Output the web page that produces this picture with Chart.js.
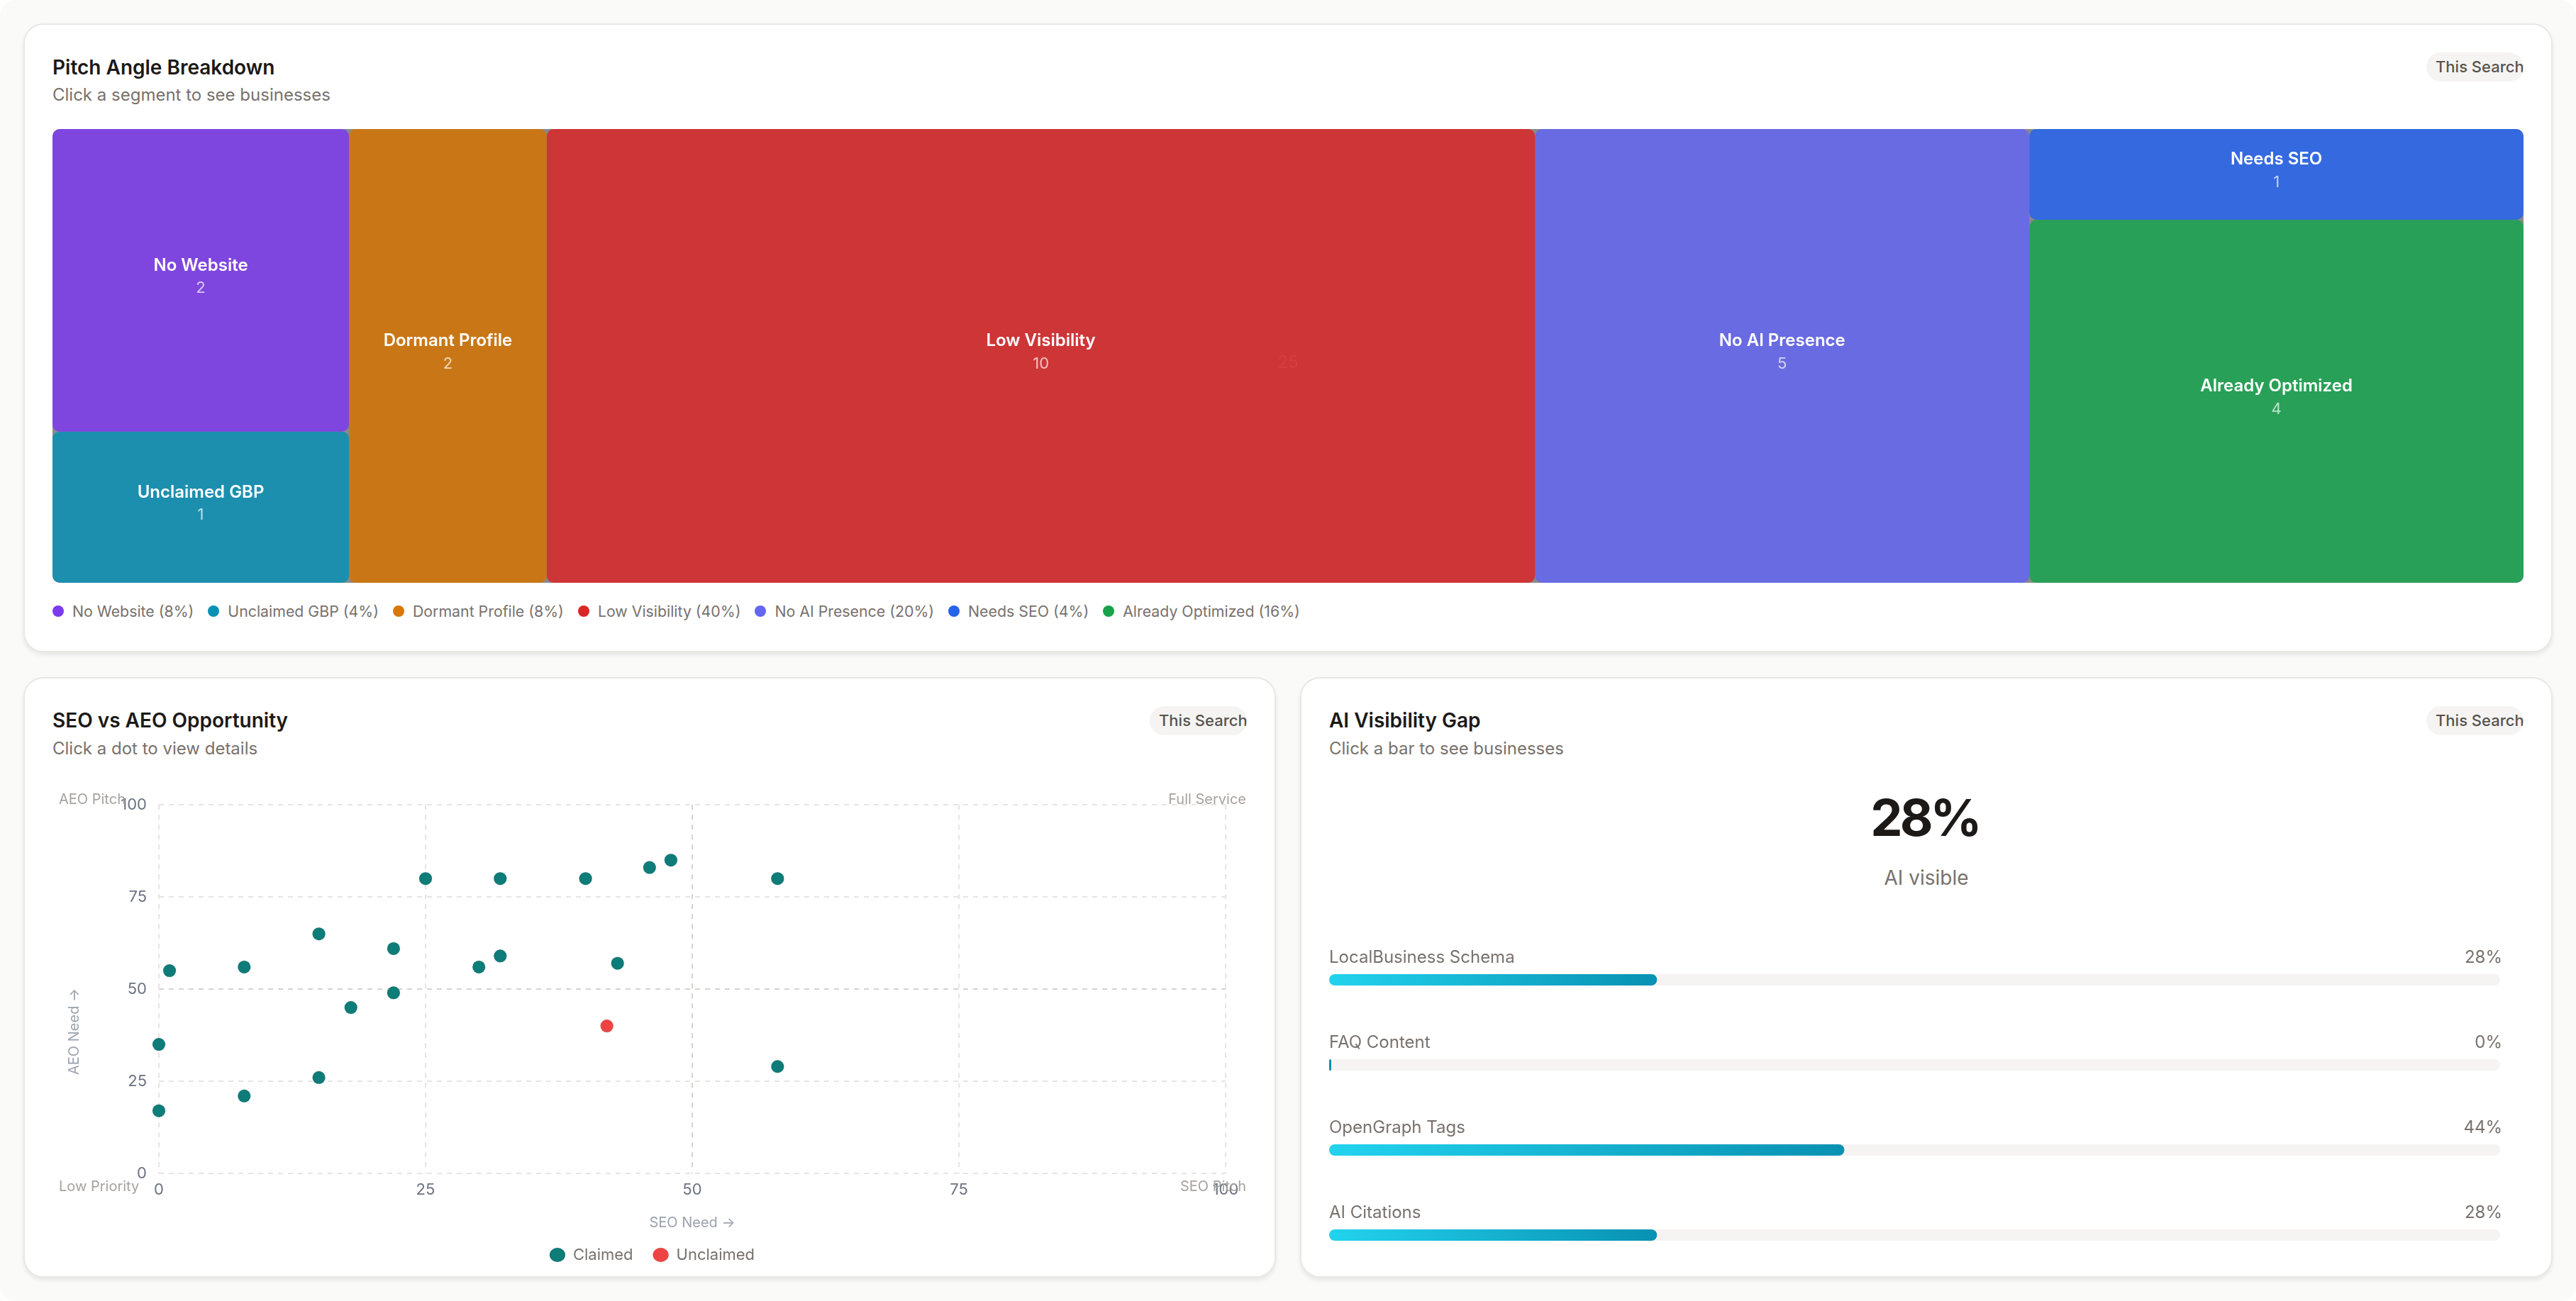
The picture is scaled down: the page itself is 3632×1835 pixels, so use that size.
<!DOCTYPE html>
<html>
<head>
<meta charset="utf-8">
<title>Pitch dashboard</title>
<script src="https://cdn.jsdelivr.net/npm/chart.js@4/dist/chart.umd.min.js"></script>
<style>
  html, body { margin: 0; padding: 0; background: #fff; }
  body { width: 3632px; height: 1835px; position: relative; overflow: hidden; font-family: Inter, sans-serif; }
  .page { position: absolute; inset: 0; background: #fafaf8; border-radius: 22px; }
  .card { position: absolute; box-sizing: border-box; background: #fff; border: 2px solid #e9e8e5; border-radius: 28px; box-shadow: 0 4px 6px rgba(0,0,0,.08); }
  .title { position: absolute; font-size: 28px; font-weight: 600; line-height: 34px; color: #1c1917; white-space: nowrap; }
  .sub { position: absolute; font-size: 24px; line-height: 30px; color: #78716c; white-space: nowrap; }
  .pill { position: absolute; width: 137px; height: 41px; box-sizing: border-box; padding-left: 13px; border-radius: 21px; background: #f5f4f2; color: #57534e;
          font-size: 22px; font-weight: 500; line-height: 41px; overflow: hidden; white-space: nowrap; }
  canvas { position: absolute; display: block; }
  #treeWrap { position: absolute; left: 74px; top: 182px; width: 3484px; height: 640px; background: #8a8a8a; border-radius: 10px; overflow: hidden; }
  #treeWrap canvas { left: 0; top: 0; }
  #treeLegend { position: absolute; left: 74px; top: 848px; height: 28px; display: flex; align-items: center; font-size: 21.3px; color: #78716c; white-space: nowrap; }
  #treeLegend span.item { display: flex; align-items: center; margin-right: 20px; }
  #treeLegend i { width: 16px; height: 16px; border-radius: 50%; margin-right: 12px; display: block; }
  .corner { position: absolute; font-size: 20px; line-height: 24px; color: #a8a29e; white-space: nowrap; }
  #aeoTitle { position: absolute; left: 104px; top: 1455px; font-size: 20px; line-height: 24px; color: #9ca3af; white-space: nowrap; transform: translate(-50%, -50%) rotate(-90deg); }
  #bigNum { position: absolute; left: 1872px; width: 1684px; top: 1108px; text-align: center; font-size: 72px; letter-spacing: -4px; line-height: 90px; font-weight: 700; color: #1c1917; }
  #bigSub { position: absolute; left: 1874px; width: 1684px; top: 1220px; text-align: center; font-size: 28px; line-height: 36px; color: #78716c; }
</style>
</head>
<body>
<div class="page"></div>

<div class="card" style="left:33px;top:33px;width:3566px;height:887px"></div>
<div class="title" style="left:74px;top:78px">Pitch Angle Breakdown</div>
<div class="sub" style="left:74px;top:119px">Click a segment to see businesses</div>
<div class="pill" style="left:3421px;top:74px">This Search</div>
<div id="treeWrap"><canvas id="treeChart" width="3484" height="640"></canvas></div>
<div id="treeLegend"></div>

<div class="card" style="left:33px;top:955px;width:1766px;height:847px"></div>
<div class="title" style="left:74px;top:999px">SEO vs AEO Opportunity</div>
<div class="sub" style="left:74px;top:1041px">Click a dot to view details</div>
<div class="pill" style="left:1621px;top:996px">This Search</div>
<canvas id="scatterChart" width="1684" height="686" style="left:74px;top:1105px"></canvas>
<div id="aeoTitle">AEO Need →</div>
<div class="corner" style="left:83px;top:1115px">AEO Pitch</div>
<div class="corner" style="right:1875px;top:1115px">Full Service</div>
<div class="corner" style="left:83px;top:1661px">Low Priority</div>
<div class="corner" style="right:1875px;top:1661px">SEO Pitch</div>

<div class="card" style="left:1833px;top:955px;width:1766px;height:847px"></div>
<div class="title" style="left:1874px;top:999px">AI Visibility Gap</div>
<div class="sub" style="left:1874px;top:1041px">Click a bar to see businesses</div>
<div class="pill" style="left:3421px;top:996px">This Search</div>
<div id="bigNum"></div>
<div id="bigSub">AI visible</div>
<canvas id="gapChart" width="1684" height="480" style="left:1874px;top:1322px"></canvas>

<script>
// treemap data
var tileNames = ["No Website", "Unclaimed GBP", "Dormant Profile", "Low Visibility", "No AI Presence", "Needs SEO", "Already Optimized"];
var tileCounts = [2, 1, 2, 10, 5, 1, 4];
var tileColumns = [0, 0, 1, 2, 3, 4, 4];
var tileColors = ["#7f46df", "#1c8faf", "#c97716", "#ce3537", "#696be2", "#3569df", "#29a057"];
var dotColors = ["#7c3aed", "#0891b2", "#d97706", "#dc2626", "#6366f1", "#2563eb", "#16a34a"];

// scatter data, [seo, aeo]
var claimedPoints = [[25,80],[32,80],[40,80],[46,83],[48,85],[58,80],[15,65],[22,61],[32,59],[30,56],[43,57],[1,55],[8,56],[22,49],[18,45],[0,35],[15,26],[8,21],[0,17],[58,29]];
var unclaimedPoints = [[42,40]];
var scatterTicks = [0, 25, 50, 75, 100];

// ai visibility data
var gapNames = ["LocalBusiness Schema", "FAQ Content", "OpenGraph Tags", "AI Citations"];
var gapValues = [28, 0, 44, 28];
var aiVisible = 28;

Chart.defaults.font.family = "Inter, sans-serif";
Chart.defaults.animation = false;

// --- treemap ---
var total = tileCounts.reduce(function (a, b) { return a + b; }, 0);
var columnSums = {};
tileCounts.forEach(function (c, i) {
  columnSums[tileColumns[i]] = (columnSums[tileColumns[i]] || 0) + c;
});

var xCursor = 0, yCursor = 0, lastColumn = 0;
var treeDatasets = tileNames.map(function (name, i) {
  if (tileColumns[i] !== lastColumn) {
    xCursor += columnSums[lastColumn];
    yCursor = 0;
    lastColumn = tileColumns[i];
  }
  var span = columnSums[tileColumns[i]];
  var lo = yCursor;
  yCursor += tileCounts[i] / span;
  return {
    label: name,
    stack: "tree",
    span: span,
    count: tileCounts[i],
    data: [{ x: xCursor + span / 2, y: [lo, yCursor] }],
    backgroundColor: tileColors[i],
    borderRadius: 10,
    borderSkipped: false,
    inflateAmount: 0
  };
});

// each tile is as wide as its column on the x scale
var tileWidths = {
  id: "tileWidths",
  afterLayout: function (chart) {
    var x = chart.scales.x;
    chart.data.datasets.forEach(function (d) {
      d.barThickness = x.getPixelForValue(d.span) - x.getPixelForValue(0);
    });
  }
};

var tileLabels = {
  id: "tileLabels",
  afterDatasetsDraw: function (chart) {
    var ctx = chart.ctx;
    ctx.save();
    ctx.textAlign = "center";
    ctx.textBaseline = "middle";
    // total sits almost invisible in the middle
    ctx.font = "24px Inter";
    ctx.fillStyle = "#d43f40";
    ctx.fillText(String(total), chart.scales.x.getPixelForValue(total / 2), chart.scales.y.getPixelForValue(0.5) + 10);
    chart.data.datasets.forEach(function (d, i) {
      var c = chart.getDatasetMeta(i).data[0].getCenterPoint();
      ctx.font = "600 24px Inter";
      ctx.fillStyle = "#fff";
      ctx.fillText(d.label, c.x, c.y - 21);
      ctx.font = "22px Inter";
      ctx.fillStyle = "rgba(255,255,255,.7)";
      ctx.fillText(String(d.count), c.x, c.y + 11);
    });
    ctx.restore();
  }
};

new Chart(document.getElementById("treeChart"), {
  type: "bar",
  data: { datasets: treeDatasets },
  plugins: [tileWidths, tileLabels],
  options: {
    responsive: false,
    devicePixelRatio: 1,
    plugins: { legend: { display: false }, tooltip: { enabled: false } },
    scales: {
      x: { type: "linear", min: 0, max: total, offset: false, display: false },
      y: { type: "linear", min: 0, max: 1, reverse: true, stacked: false, display: false }
    }
  }
});

var legendBox = document.getElementById("treeLegend");
tileNames.forEach(function (name, i) {
  var item = document.createElement("span");
  item.className = "item";
  item.innerHTML = '<i style="background:' + dotColors[i] + '"></i>' + name + " (" + Math.round(tileCounts[i] / total * 100) + "%)";
  legendBox.appendChild(item);
});

// --- scatter ---
function toXY(p) { return { x: p[0], y: p[1] }; }

function gridColor(ctx) {
  return ctx.tick && ctx.tick.value === 50 ? "#d6d3d1" : "#e7e5e4";
}

var tickOpts = {
  color: "#6b7280",
  font: { size: 22 },
  stepSize: 25,
  callback: function (v) { return scatterTicks.indexOf(v) >= 0 ? v : ""; }
};

new Chart(document.getElementById("scatterChart"), {
  type: "scatter",
  data: {
    datasets: [
      { label: "Claimed", data: claimedPoints.map(toXY), backgroundColor: "#0e7c78", pointRadius: 9, pointHoverRadius: 9, clip: false },
      { label: "Unclaimed", data: unclaimedPoints.map(toXY), backgroundColor: "#ef4444", pointRadius: 9, pointHoverRadius: 9, clip: false }
    ]
  },
  options: {
    responsive: false,
    devicePixelRatio: 1,
    layout: { padding: { top: 15, left: 37, right: 30 } },
    plugins: {
      tooltip: { enabled: false },
      legend: {
        position: "bottom",
        labels: { color: "#78716c", font: { size: 22 }, usePointStyle: true, pointStyle: "circle", boxHeight: 14, pointStyleWidth: 22, padding: 28 }
      }
    },
    scales: {
      x: {
        min: 0, max: 100,
        grid: { color: gridColor, lineWidth: 2, drawTicks: false },
        border: { display: false, dash: [7, 7] },
        ticks: Object.assign({ padding: 10, maxRotation: 0 }, tickOpts),
        title: { display: true, text: "SEO Need →", color: "#9ca3af", font: { size: 20 }, padding: { top: 0, bottom: -6 } },
        afterFit: function (s) { s.height = 76; }
      },
      y: {
        min: 0, max: 100,
        grid: { color: gridColor, lineWidth: 2, drawTicks: false },
        border: { display: false, dash: [7, 7] },
        ticks: Object.assign({ padding: 17 }, tickOpts),
        afterFit: function (s) { s.width = 113; }
      }
    }
  }
});

// --- ai visibility bars ---
document.getElementById("bigNum").textContent = aiVisible + "%";

function fillGradient(ctx) {
  var chart = ctx.chart;
  if (!chart.chartArea || !ctx.raw) return "#0891b2";
  var x = chart.scales.x;
  var g = chart.ctx.createLinearGradient(x.getPixelForValue(0), 0, x.getPixelForValue(ctx.raw), 0);
  g.addColorStop(0, "#22d3ee");
  g.addColorStop(1, "#0891b2");
  return g;
}

var gapLabels = {
  id: "gapLabels",
  afterDatasetsDraw: function (chart) {
    var ctx = chart.ctx;
    var bars = chart.getDatasetMeta(0).data;
    ctx.save();
    ctx.font = "24px Inter";
    ctx.fillStyle = "#78716c";
    ctx.textBaseline = "middle";
    gapNames.forEach(function (name, i) {
      var y = bars[i].y - 31;
      ctx.textAlign = "left";
      ctx.fillText(name, chart.chartArea.left, y);
      ctx.textAlign = "right";
      ctx.fillText(gapValues[i] + "%", chart.chartArea.right + 3, y);
    });
    ctx.restore();
  }
};

new Chart(document.getElementById("gapChart"), {
  type: "bar",
  data: {
    labels: gapNames,
    datasets: [
      { label: "Visible", stack: "gap", data: gapValues, backgroundColor: fillGradient, barThickness: 16, borderRadius: 8, borderSkipped: false, minBarLength: 3, inflateAmount: 0 },
      { label: "Track", stack: "gap", data: gapNames.map(function () { return 100; }), backgroundColor: "#f5f4f2", barThickness: 16, borderRadius: 8, borderSkipped: false, inflateAmount: 0 }
    ]
  },
  plugins: [gapLabels],
  options: {
    indexAxis: "y",
    responsive: false,
    devicePixelRatio: 1,
    layout: { padding: { right: 33 } },
    plugins: { legend: { display: false }, tooltip: { enabled: false } },
    scales: {
      x: { min: 0, max: 100, stacked: false, display: false },
      y: { display: false }
    }
  }
});
</script>
</body>
</html>
